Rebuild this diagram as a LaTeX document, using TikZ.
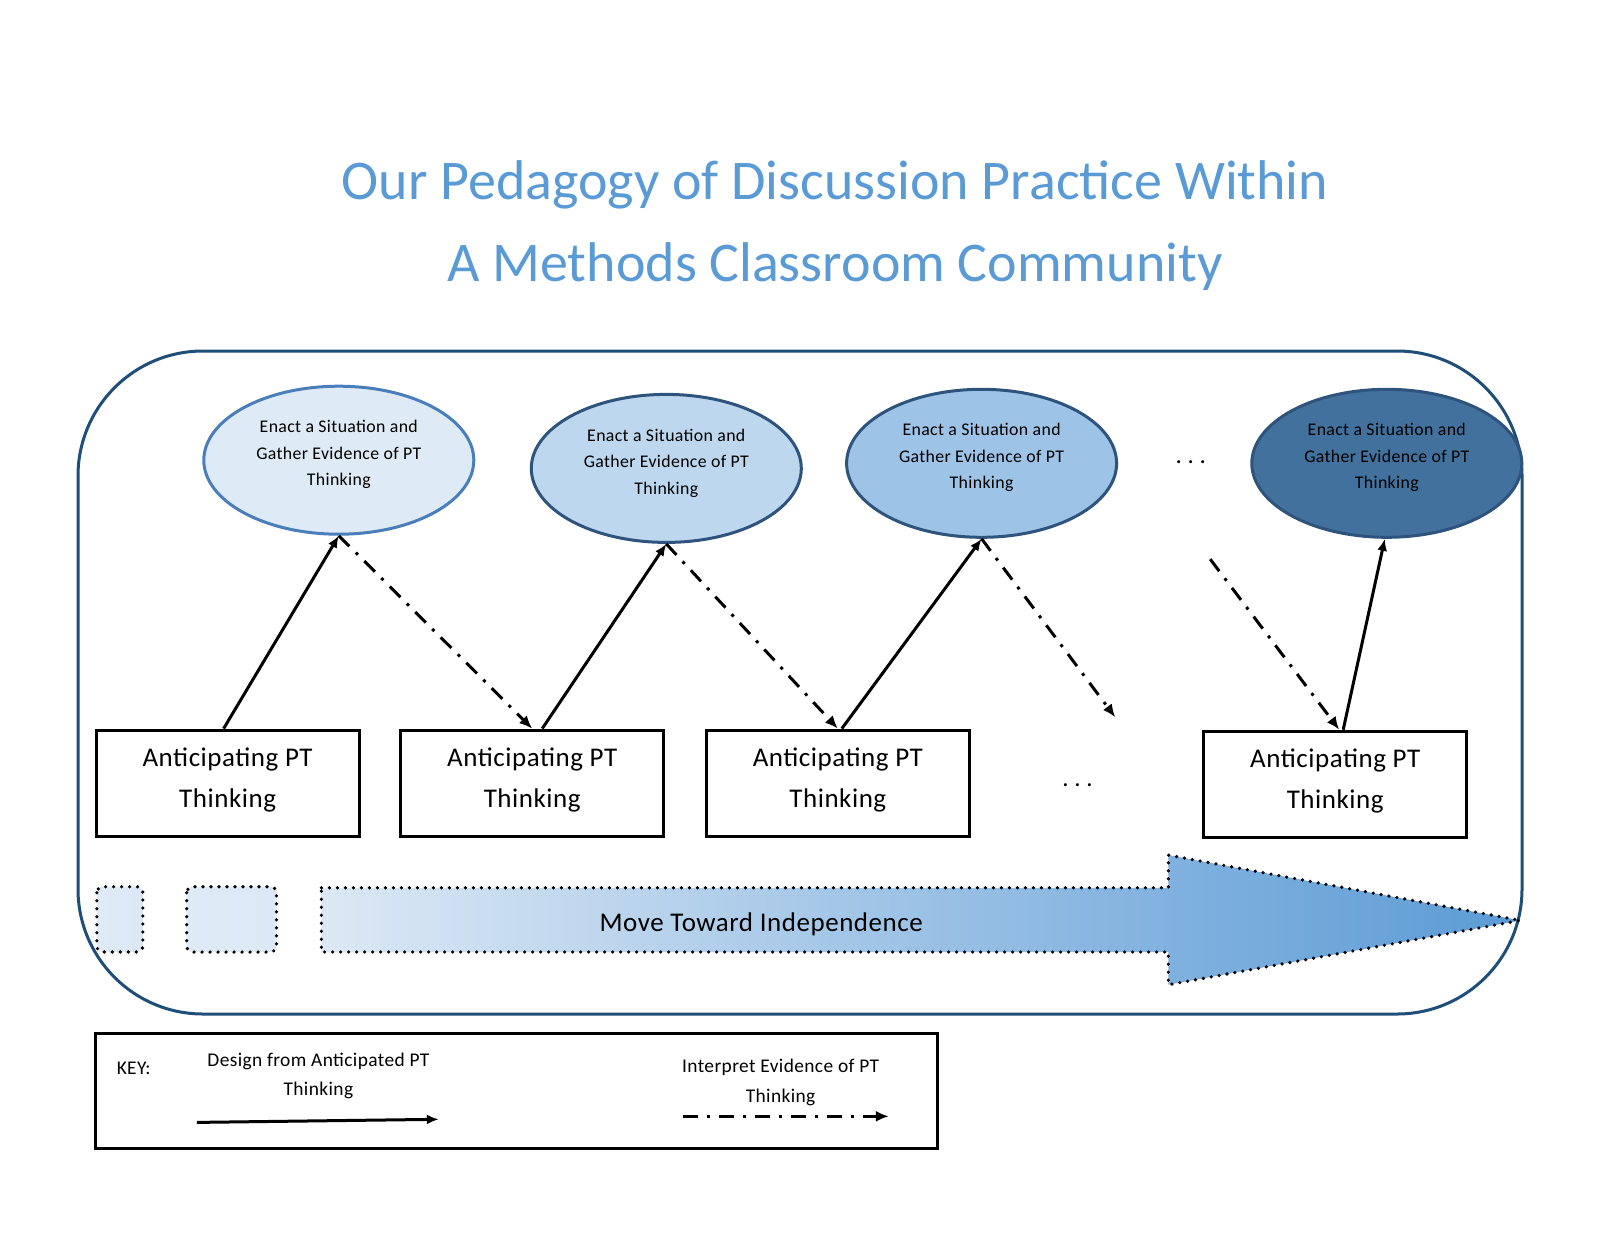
\documentclass[tikz,border=0pt]{standalone}
\usepackage{fontspec}
\setmainfont{Carlito}
\newfontfamily\bodyfont{Carlito}[LetterSpace=2]
\usetikzlibrary{shapes.geometric,arrows.meta}
\definecolor{titleblue}{RGB}{91,155,213}
\definecolor{frameblue}{RGB}{31,78,121}
\definecolor{eone}{RGB}{222,235,247}
\definecolor{etwo}{RGB}{189,215,238}
\definecolor{ethree}{RGB}{157,195,230}
\definecolor{efour}{RGB}{65,113,156}
\definecolor{eedge}{RGB}{46,84,125}
\definecolor{eedgeone}{RGB}{74,126,187}
\definecolor{arrowstart}{RGB}{220,232,245}
\definecolor{arrowend}{RGB}{91,155,213}
\begin{document}
\begin{tikzpicture}[x=1pt,y=-1pt,
  ell/.style={ellipse,draw=eedge,line width=3pt,minimum width=270pt,minimum height=148pt,inner sep=0pt},
  elltext/.style={align=center,font=\bodyfont\fontsize{17.8}{26.5}\selectfont,inner sep=0pt},
  anticip/.style={draw=black,line width=3pt,minimum width=263pt,minimum height=106pt,inner sep=0pt},
  anticiptext/.style={align=center,font=\bodyfont\fontsize{27}{41}\selectfont,inner sep=0pt},
  design/.style={line width=3pt,-{Latex[length=12pt,width=10pt]}},
  interpret/.style={line width=3pt,dash pattern=on 15pt off 9pt on 3pt off 9pt,-{Latex[length=13pt,width=11pt]}},
  dotborder/.style={draw=black,line width=3.6pt,line cap=round,dash pattern=on 0pt off 8pt},
  dots/.style={font=\fontsize{25}{30}\selectfont,anchor=base,inner sep=0pt},
  keytext/.style={align=center,font=\bodyfont\fontsize{19.4}{29.6}\selectfont,inner sep=0pt},
]
\useasboundingbox[fill=white] (0,0) rectangle (1600,1237);

% title
\node[font=\fontsize{56}{82}\selectfont,text=titleblue,align=center] (title) at (835,226)
  {Our Pedagogy of Discussion Practice Within\\A Methods Classroom Community};

% outer frame
\draw[frameblue,line width=3pt,rounded corners=125pt] (78,351) rectangle (1522,1014);

% ellipses
\node[ell,draw=eedgeone,fill=eone] (e1) at (338.8,460.2) {};
\node[ell,fill=etwo] (e2) at (666.3,468.4) {};
\node[ell,fill=ethree] (e3) at (981.6,463.3) {};
\node[ell,fill=efour] (e4) at (1386.8,463.3) {};
\node[elltext] (e1t) at ([yshift=5.5pt]e1.center) {Enact a Situation and\\Gather Evidence of PT\\Thinking};
\node[elltext] (e2t) at ([yshift=5.5pt]e2.center) {Enact a Situation and\\Gather Evidence of PT\\Thinking};
\node[elltext] (e3t) at ([yshift=5.5pt]e3.center) {Enact a Situation and\\Gather Evidence of PT\\Thinking};
\node[elltext] (e4t) at ([yshift=5.5pt]e4.center) {Enact a Situation and\\Gather Evidence of PT\\Thinking};

% boxes
\node[anticip] (b1) at (227.6,783.1) {};
\node[anticip] (b2) at (532.2,783.1) {};
\node[anticip] (b3) at (837.8,783.1) {};
\node[anticip] (b4) at (1335.2,784.2) {};
\node[anticiptext] (b1t) at ([yshift=3pt]b1.center) {Anticipating PT\\Thinking};
\node[anticiptext] (b2t) at ([yshift=3pt]b2.center) {Anticipating PT\\Thinking};
\node[anticiptext] (b3t) at ([yshift=3pt]b3.center) {Anticipating PT\\Thinking};
\node[anticiptext] (b4t) at ([yshift=3pt]b4.center) {Anticipating PT\\Thinking};

% ellipsis dots
\node[dots] (dtop) at (1190.8,463.5) {.\ .\ .};
\node[dots] (dbot) at (1077.6,786) {.\ .\ .};

% connectors
\coordinate (d3end) at (1115.3,717.3);
\coordinate (d4start) at (1210.2,559.2);
\draw[design] ([xshift=-4pt]b1.north) -- (e1.south);
\draw[design] ([xshift=10pt]b2.north) -- (e2.south);
\draw[design] ([xshift=4pt]b3.north) -- (e3.south);
\draw[design] ([xshift=8pt]b4.north) -- ([xshift=-2pt]e4.south);
\draw[interpret] (e1.south) -- (b2.north);
\draw[interpret] (e2.south) -- (b3.north);
\draw[interpret] (e3.south) -- (d3end);
\draw[interpret] (d4start) -- ([xshift=4pt]b4.north);

% bottom progression
\shadedraw[left color=eone,right color=arrowstart,dotborder,rounded corners=6pt] (96.9,886.7) rectangle (142.9,952);
\shadedraw[left color=eone,right color=arrowstart,dotborder,rounded corners=6pt] (186.7,886.7) rectangle (276.5,952);
\shadedraw[left color=arrowstart,right color=arrowend,dotborder]
  (321.4,887.8) -- (1168.4,887.8) -- (1168.4,855.1) -- (1520.4,920.4) -- (1168.4,984.7) -- (1168.4,952) -- (321.4,952) -- cycle;
\node[font=\bodyfont\fontsize{27}{30}\selectfont] (move) at (761.2,924.5) {Move Toward Independence};

% key
\node[draw=black,line width=3pt,minimum width=842pt,minimum height=115pt,inner sep=0pt] (keybox) at (516.9,1091.4) {};
\node[keytext] (keylbl) at (133.7,1068.4) {KEY:};
\node[keytext] (keydesign) at (318.4,1076) {Design from Anticipated PT\\Thinking};
\node[keytext] (keyinterp) at (780.6,1082.2) {Interpret Evidence of PT\\Thinking};
\coordinate (kd1) at (196.9,1122.4);
\coordinate (kd2) at (438.8,1119.3);
\coordinate (ki1) at (682.7,1116.3);
\coordinate (ki2) at (888.8,1116.3);
\draw[design] (kd1) -- (kd2);
\draw[interpret] (ki1) -- (ki2);
\end{tikzpicture}
\end{document}
